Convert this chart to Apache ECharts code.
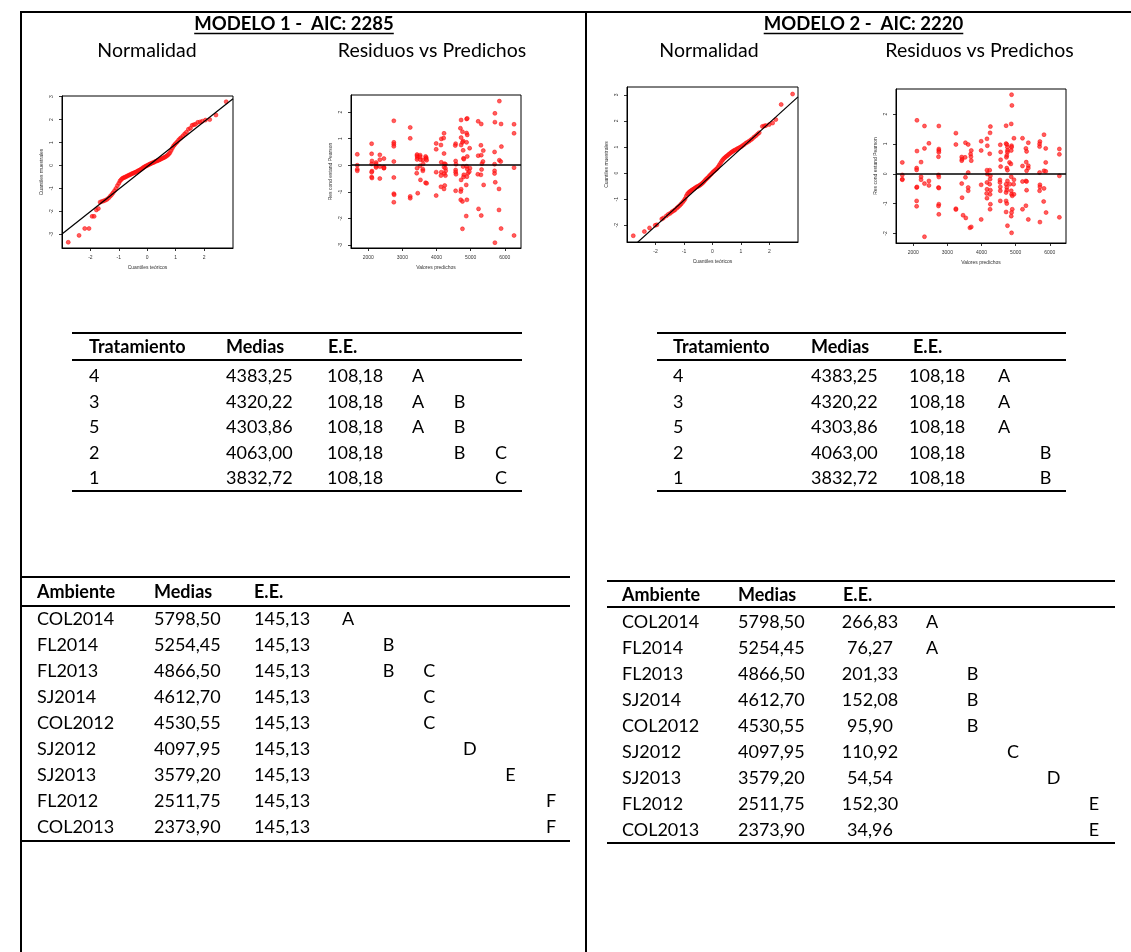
<!DOCTYPE html>
<html>
<head>
<meta charset="utf-8">
<script src="https://cdn.jsdelivr.net/npm/echarts@6/dist/echarts.min.js"></script>
<style>
html,body{margin:0;padding:0;background:#fff;}
#main{width:1131px;height:952px;}
</style>
</head>
<body>
<div id="main"></div>
<script>
// ---------- DATA ----------
const titles = ['MODELO 1 -  AIC: 2285', 'MODELO 2 -  AIC: 2220'];
const subTitles = ['Normalidad', 'Residuos vs Predichos'];

const qqTicksX = [-2, -1, 0, 1, 2];
const qq1TicksY = [-3, -2, -1, 0, 1, 2, 3];
const qq2TicksY = [-2, -1, 0, 1, 2, 3];
const resTicksX = [2000, 3000, 4000, 5000, 6000];
const res1TicksY = [-3, -2, -1, 0, 1, 2];
const res2TicksY = [-2, -1, 0, 1, 2];

// QQ plot model 1: [theoretical quantile, sample quantile]
const qq1 = [[-2.78,-3.35],[-2.40,-3.05],[-2.20,-2.75],[-2.05,-2.75],[-1.94,-2.22],[-1.87,-2.22],[-1.79,-1.94],[-1.72,-1.88],
[-1.66,-1.60],[-1.60,-1.57],[-1.54,-1.55],[-1.48,-1.52],[-1.42,-1.48],[-1.36,-1.42],[-1.30,-1.34],[-1.25,-1.27],[-1.20,-1.19],
[-1.15,-1.10],[-1.10,-1.00],[-1.05,-0.88],[-1.00,-0.78],[-0.96,-0.68],[-0.92,-0.62],[-0.88,-0.57],[-0.84,-0.54],[-0.80,-0.52],
[-0.76,-0.50],[-0.72,-0.47],[-0.68,-0.45],[-0.64,-0.42],[-0.60,-0.40],[-0.56,-0.37],[-0.52,-0.35],[-0.48,-0.33],[-0.44,-0.31],
[-0.40,-0.29],[-0.36,-0.26],[-0.32,-0.23],[-0.28,-0.21],[-0.24,-0.18],[-0.20,-0.15],[-0.16,-0.11],[-0.12,-0.08],[-0.08,-0.05],
[-0.04,-0.02],[0.00,0.00],[0.04,0.03],[0.08,0.05],[0.12,0.08],[0.16,0.10],[0.20,0.12],[0.24,0.14],[0.28,0.17],[0.32,0.19],
[0.36,0.21],[0.40,0.23],[0.44,0.25],[0.48,0.28],[0.52,0.30],[0.56,0.33],[0.60,0.35],[0.64,0.38],[0.68,0.41],[0.72,0.45],
[0.76,0.50],[0.80,0.56],[0.84,0.65],[0.88,0.75],[0.92,0.84],[0.96,0.90],[1.00,0.96],[1.05,1.02],[1.10,1.10],[1.15,1.17],
[1.20,1.22],[1.26,1.30],[1.32,1.38],[1.38,1.45],[1.45,1.58],[1.52,1.62],[1.58,1.75],[1.64,1.78],[1.70,1.80],[1.78,1.88],
[1.86,1.90],[1.94,1.93],[2.05,1.98],[2.20,2.00],[2.42,2.20],[2.78,2.78]];
const qqLine1 = [[-3.0,-2.99],[3.02,2.91]];

// QQ plot model 2
const qq2 = [[-2.78,-2.40],[-2.39,-2.24],[-2.21,-2.10],[-2.01,-2.00],[-1.95,-1.98],[-1.78,-1.76],[-1.72,-1.72],[-1.62,-1.64],
[-1.55,-1.58],[-1.48,-1.54],[-1.42,-1.48],[-1.36,-1.44],[-1.31,-1.40],[-1.25,-1.34],[-1.20,-1.29],[-1.15,-1.24],[-1.10,-1.18],
[-1.05,-1.12],[-1.00,-1.05],[-0.96,-0.98],[-0.92,-0.88],[-0.88,-0.80],[-0.84,-0.75],[-0.80,-0.71],[-0.76,-0.68],[-0.72,-0.65],
[-0.68,-0.62],[-0.64,-0.59],[-0.60,-0.56],[-0.56,-0.53],[-0.52,-0.51],[-0.48,-0.49],[-0.44,-0.46],[-0.40,-0.43],[-0.36,-0.39],
[-0.32,-0.35],[-0.28,-0.30],[-0.24,-0.25],[-0.20,-0.21],[-0.16,-0.17],[-0.12,-0.12],[-0.08,-0.07],[-0.04,-0.03],[0.00,0.02],
[0.04,0.06],[0.08,0.10],[0.12,0.14],[0.16,0.18],[0.20,0.24],[0.24,0.31],[0.28,0.38],[0.32,0.45],[0.36,0.51],[0.40,0.56],
[0.44,0.60],[0.48,0.64],[0.52,0.67],[0.56,0.71],[0.60,0.74],[0.64,0.78],[0.68,0.81],[0.72,0.84],[0.76,0.87],[0.80,0.89],
[0.85,0.92],[0.90,0.95],[0.95,0.98],[1.00,1.01],[1.05,1.05],[1.10,1.09],[1.16,1.14],[1.22,1.18],[1.28,1.22],[1.34,1.27],
[1.40,1.32],[1.46,1.38],[1.52,1.43],[1.58,1.49],[1.64,1.55],[1.75,1.79],[1.82,1.81],[1.87,1.82],[1.99,1.86],[2.11,1.92],
[2.22,2.05],[2.41,2.63],[2.81,3.03]];
const qqLine2 = [[-3.0,-3.02],[3.0,2.92]];

// Residuals vs predicted, model 1: [predicted, standardized Pearson residual]
const res1 = [
[1680,0.41],[1680,0.00],[1680,-0.15],[1680,-0.21],
[2100,0.81],[2100,0.43],[2110,0.16],[2100,0.05],[2110,-0.22],[2100,-0.26],[2100,-0.44],[2110,-0.48],
[2230,0.10],[2230,0.04],[2230,-0.04],[2230,-0.08],
[2340,0.39],[2340,0.21],[2340,-0.05],[2340,-0.50],
[2460,0.25],[2460,-0.07],[2460,-0.11],[2460,-0.10],
[2750,1.67],[2750,0.86],[2750,0.79],[2750,0.71],[2750,0.14],[2750,-0.46],[2750,-1.07],[2760,-1.11],[2750,-1.39],
[3230,1.42],[3230,1.01],[3230,-1.17],[3230,-1.24],
[3430,0.40],[3430,0.35],[3440,0.29],[3430,0.22],[3430,-0.11],[3420,-0.30],[3450,-1.05],
[3520,0.38],[3520,0.32],[3530,0.21],[3520,-0.02],[3530,-0.55],
[3600,0.20],[3600,-0.15],[3600,-0.21],[3610,0.05],
[3680,0.33],[3700,0.28],[3690,0.24],[3710,0.19],[3680,-0.66],[3710,-0.68],
[3990,0.82],[3990,0.60],[3990,-0.26],[3990,-1.14],
[4140,0.99],[4130,0.76],[4140,0.11],[4140,-0.26],[4130,-0.39],[4130,-0.81],
[4220,1.20],[4210,1.02],[4220,0.44],[4230,0.06],[4220,-0.07],[4230,-0.31],[4240,-0.76],[4220,-0.89],[4260,-0.39],
[4260,0.04],[4260,-0.11],[4270,-0.21],
[4560,0.81],[4550,0.74],[4560,0.16],[4570,0.04],[4560,-0.18],[4560,-0.26],[4570,-0.34],[4560,-0.96],
[4720,1.70],[4700,1.39],[4720,1.04],[4720,0.76],[4720,-0.55],[4720,-0.90],[4710,-0.99],[4710,-1.30],
[4760,1.26],[4780,0.91],[4760,0.86],[4780,0.56],[4790,0.26],[4800,0.23],[4780,-0.05],[4800,-0.36],[4790,-0.44],[4760,-1.36],[4760,-2.39],
[4880,1.74],[4900,1.76],[4880,1.21],[4900,1.14],[4880,0.86],[4900,0.33],[4880,-0.04],[4900,-0.14],[4920,-0.30],[4890,-0.43],[4870,-0.74],[4890,-1.30],[4870,-1.91],
[4970,0.64],[4980,-0.11],[4960,-0.24],
[5220,1.65],[5220,0.36],[5210,-0.34],[5230,-1.64],
[5310,1.55],[5300,0.75],[5310,0.38],[5330,0.06],[5320,-0.16],[5300,-0.36],[5310,-1.89],
[5370,0.55],[5360,0.14],[5380,-0.74],
[5710,1.95],[5710,1.62],[5700,0.50],[5700,0.04],[5700,-0.21],[5700,-0.31],[5720,-0.64],[5710,-2.91],
[5840,2.41],[5840,0.19],[5830,-0.89],[5830,-1.68],
[5890,1.55],[5900,0.70],[5880,0.14],[5890,-2.38],
[6270,1.54],[6270,1.20],[6270,-0.09],[6270,-2.64]];

// Residuals vs predicted, model 2
const res2 = [
[1680,0.38],[1680,-0.04],[1680,-0.18],[1680,-0.20],
[2110,1.79],[2110,0.76],[2100,0.19],[2100,0.13],[2100,-0.46],[2110,-0.44],[2100,-0.91],[2100,-1.09],
[2230,0.39],[2230,-0.10],[2230,-0.20],
[2330,1.60],[2330,0.85],[2330,-0.33],[2330,-2.11],
[2460,1.02],[2460,-0.24],[2460,-0.39],
[2750,1.60],[2750,0.83],[2750,0.78],[2750,0.72],[2740,0.57],[2740,-0.04],[2750,-0.11],[2740,-0.46],[2750,-0.48],[2750,-1.02],[2740,-1.08],[2750,-1.36],
[3250,1.36],[3250,0.98],[3250,-1.17],[3250,-1.20],
[3420,0.56],[3430,0.49],[3420,0.44],[3420,-0.33],[3430,-0.80],[3460,-1.39],
[3530,1.04],[3520,0.55],[3530,-0.12],[3540,-1.48],
[3610,0.98],[3610,0.04],[3610,-0.46],[3610,-0.57],
[3680,0.66],[3690,0.57],[3700,0.44],[3700,0.78],[3660,-1.81],[3700,-1.78],
[3990,1.09],[3990,0.78],[3990,-0.37],[3990,-1.53],
[4160,1.17],[4170,0.94],[4160,0.12],[4170,-0.01],[4160,-0.29],[4160,-0.52],[4150,-0.66],[4160,-0.82],
[4250,1.37],[4260,1.58],[4240,0.67],[4240,0.12],[4260,-0.07],[4250,-0.18],[4240,-0.35],[4260,-0.55],[4250,-0.69],[4260,-1.02],[4250,-1.19],
[4550,0.97],[4560,0.73],[4560,0.47],[4560,0.24],[4540,-0.21],[4540,-0.29],[4550,-0.44],[4550,-0.57],[4550,-0.91],
[4720,1.61],[4720,1.01],[4740,0.98],[4760,0.89],[4760,0.78],[4760,0.72],[4740,0.61],[4730,0.55],[4740,0.19],[4760,0.12],[4760,-0.24],[4720,-0.35],[4740,-0.46],[4740,-0.55],[4720,-0.63],[4720,-0.91],[4740,-1.00],[4720,-1.28],[4760,-1.74],
[4880,2.65],[4890,2.29],[4870,1.67],[4880,0.94],[4880,0.89],[4870,0.78],[4820,0.38],[4860,0.33],[4870,-0.10],[4830,-0.35],[4870,-0.57],[4880,-0.69],[4900,-0.74],[4900,-1.19],[4880,-1.30],[4870,-1.42],[4880,-1.98],
[4950,1.19],[4950,-0.20],[4940,-0.35],[4950,-0.69],
[5200,1.19],[5200,0.26],[5200,-0.26],[5200,-1.19],
[5300,0.85],[5320,0.75],[5310,0.39],[5320,0.10],[5300,-0.24],[5320,-0.26],[5320,-0.55],[5300,-1.07],[5370,-1.53],
[5370,1.04],[5370,0.27],[5370,0.19],
[5710,1.08],[5700,1.00],[5700,0.91],[5700,0.04],[5710,-0.37],[5710,-0.44],[5700,-0.57],[5710,-1.62],
[5830,1.31],[5830,0.10],[5830,-0.49],[5820,-0.93],
[5880,0.85],[5880,0.38],[5880,0.08],[5890,-1.30],
[6280,0.83],[6280,0.65],[6280,-0.07],[6280,-1.46]];

// Tables
const tratHeaders = ['Tratamiento', 'Medias', 'E.E.'];
const tratNames = ['4', '3', '5', '2', '1'];
const tratMedias = ['4383,25', '4320,22', '4303,86', '4063,00', '3832,72'];
const tratEE1 = ['108,18', '108,18', '108,18', '108,18', '108,18'];
const tratEE2 = ['108,18', '108,18', '108,18', '108,18', '108,18'];
const tratLetters1 = ['A', 'AB', 'AB', 'BC', 'C'];
const tratLetters2 = ['A', 'A', 'A', 'B', 'B'];

const ambHeaders = ['Ambiente', 'Medias', 'E.E.'];
const ambNames = ['COL2014', 'FL2014', 'FL2013', 'SJ2014', 'COL2012', 'SJ2012', 'SJ2013', 'FL2012', 'COL2013'];
const ambMedias = ['5798,50', '5254,45', '4866,50', '4612,70', '4530,55', '4097,95', '3579,20', '2511,75', '2373,90'];
const ambEE1 = ['145,13', '145,13', '145,13', '145,13', '145,13', '145,13', '145,13', '145,13', '145,13'];
const ambEE2 = ['266,83', '76,27', '201,33', '152,08', '95,90', '110,92', '54,54', '152,30', '34,96'];
const ambLetters1 = ['A', 'B', 'BC', 'C', 'C', 'D', 'E', 'F', 'F'];
const ambLetters2 = ['A', 'A', 'B', 'B', 'B', 'C', 'D', 'E', 'E'];

// ---------- RENDER ----------
const FONT = 'Lato, "Open Sans", sans-serif';
const chart = echarts.init(document.getElementById('main'), null, {renderer: 'canvas'});
const G = [];
const measureCtx = document.createElement('canvas').getContext('2d');

function fontStr(o) { return (o.bold ? 'bold ' : '') + (o.size || 18) + 'px ' + FONT; }
function txt(x, y, s, o) {
  o = o || {};
  G.push({type: 'text', x: x, y: y, silent: true, z: 10,
    style: {text: s, fill: '#000', font: fontStr(o),
      textAlign: o.align || 'left', textVerticalAlign: 'middle'}});
}
function ln(x1, y1, x2, y2, w) {
  G.push({type: 'line', silent: true, z: 10, shape: {x1: x1, y1: y1, x2: x2, y2: y2},
    style: {stroke: '#000', lineWidth: w || 2}});
}

// frame
ln(21, 12, 1131, 12, 2);
ln(21, 11, 21, 952, 2);
ln(586, 11, 586, 952, 2);

// titles (underlined)
function header(cx, title, nx, rx) {
  const o = {bold: true, size: 18.5, align: 'center'};
  txt(cx, 24, title, o);
  measureCtx.font = fontStr(o);
  const w = measureCtx.measureText(title).width;
  ln(cx - w / 2, 33.5, cx + w / 2, 33.5, 1.6);
  txt(nx, 51, subTitles[0], {size: 19.5, align: 'center'});
  txt(rx, 51, subTitles[1], {size: 19.5, align: 'center'});
}
header(294, titles[0], 147, 432);
header(863.5, titles[1], 709, 979.5);

function table(c) {
  ln(c.x0, c.yTop, c.x1, c.yTop, 2);
  ln(c.x0, c.yUnder, c.x1, c.yUnder, 2);
  ln(c.x0, c.yBottom, c.x1, c.yBottom, 2);
  txt(c.cols[0], c.yHead, c.headers[0], {bold: true, size: c.size});
  txt(c.cols[1], c.yHead, c.headers[1], {bold: true, size: c.size});
  txt(c.colsH2, c.yHead, c.headers[2], {bold: true, size: c.size});
  c.names.forEach(function (n, i) {
    const y = c.row0 + i * c.rowStep;
    txt(c.cols[0], y, n, {size: c.size});
    txt(c.cols[1], y, c.medias[i], {size: c.size});
    txt(c.cols[2], y, c.ee[i], {size: c.size, align: c.eeAlign});
    c.letters[i].split('').forEach(function (L) {
      const k = L.charCodeAt(0) - 65;
      txt(c.letterA + k * c.letterStep, y, L, {size: c.size, align: 'center'});
    });
  });
}
table({x0: 72, x1: 522, yTop: 333, yUnder: 360, yBottom: 491, yHead: 347, row0: 376.5, rowStep: 25.4, size: 18,
  cols: [89, 226, 327], colsH2: 328, eeAlign: 'left', headers: tratHeaders, names: tratNames, medias: tratMedias,
  ee: tratEE1, letters: tratLetters1, letterA: 418, letterStep: 41.5});
table({x0: 657, x1: 1066, yTop: 333, yUnder: 360, yBottom: 491, yHead: 347, row0: 376.5, rowStep: 25.4, size: 18,
  cols: [673, 811, 909], colsH2: 913, eeAlign: 'left', headers: tratHeaders, names: tratNames, medias: tratMedias,
  ee: tratEE2, letters: tratLetters2, letterA: 1004, letterStep: 41.5});
table({x0: 22, x1: 570, yTop: 577, yUnder: 606, yBottom: 841, yHead: 592, row0: 619.5, rowStep: 25.9, size: 18,
  cols: [37, 154, 254], colsH2: 254, eeAlign: 'left', headers: ambHeaders, names: ambNames, medias: ambMedias,
  ee: ambEE1, letters: ambLetters1, letterA: 348, letterStep: 40.6});
table({x0: 607, x1: 1115, yTop: 581, yUnder: 607, yBottom: 843, yHead: 595, row0: 622.5, rowStep: 25.9, size: 18,
  cols: [622, 738, 870], colsH2: 843, eeAlign: 'center', headers: ambHeaders, names: ambNames, medias: ambMedias,
  ee: ambEE2, letters: ambLetters2, letterA: 932, letterStep: 40.5});

// plots
const grids = [
  {left: 62, top: 96, width: 171, height: 152},
  {left: 351, top: 95, width: 170, height: 153},
  {left: 627, top: 87, width: 171, height: 155},
  {left: 896, top: 89, width: 170, height: 154}
];
function axis(gi, min, max, ticks, name, isY) {
  return {
    type: 'value', gridIndex: gi, min: min, max: max, scale: true,
    name: name, nameLocation: 'middle', nameGap: isY ? 18 : 17,
    nameTextStyle: {fontSize: 5, color: '#333', fontFamily: 'Liberation Sans, Arial'},
    axisLine: {show: true, onZero: false, lineStyle: {color: '#000', width: 1}},
    axisTick: {show: true, inside: false, length: 3, customValues: ticks, lineStyle: {color: '#000', width: 0.8}},
    axisLabel: {customValues: ticks, fontSize: 5, color: '#333', margin: isY ? 8 : 7, rotate: isY ? 90 : 0,
      fontFamily: 'Liberation Sans, Arial', showMinLabel: true, showMaxLabel: true,
      formatter: function (v) { return String(v); }},
    splitLine: {show: false}
  };
}
const xAxes = [
  axis(0, -3.0, 3.02, qqTicksX, 'Cuantiles teóricos', false),
  axis(1, 1496, 6474, resTicksX, 'Valores predichos', false),
  axis(2, -3.0, 3.0, qqTicksX, 'Cuantiles teóricos', false),
  axis(3, 1496, 6474, resTicksX, 'Valores predichos', false)
];
const yAxes = [
  axis(0, -3.6, 3.03, qq1TicksY, 'Cuantiles muestrales', true),
  axis(1, -3.11, 2.64, res1TicksY, 'Res cond estand Pearson', true),
  axis(2, -2.64, 3.3, qq2TicksY, 'Cuantiles muestrales', true),
  axis(3, -2.32, 2.84, res2TicksY, 'Res cond estand Pearson', true)
];
const pointStyle = {color: 'rgba(255,30,30,0.9)', borderColor: '#ff0000', borderWidth: 0.6};
function scatter(i, data) {
  return {type: 'scatter', xAxisIndex: i, yAxisIndex: i, data: data, symbol: 'circle', symbolSize: 4,
    itemStyle: pointStyle, silent: true, clip: true, z: 2};
}
function refLine(i, data) {
  return {type: 'line', xAxisIndex: i, yAxisIndex: i, data: data, symbol: 'none', silent: true, clip: true,
    lineStyle: {color: '#000', width: 1.2}, z: 3};
}
function zeroLine(i, data) {
  const s = scatter(i, data);
  s.markLine = {silent: true, symbol: ['none', 'none'], label: {show: false}, animation: false,
    lineStyle: {color: '#000', type: 'solid', width: 1.6}, data: [{yAxis: 0}]};
  return s;
}

chart.setOption({
  animation: false,
  backgroundColor: '#fff',
  grid: grids.map(function (g) { return Object.assign({show: true, borderColor: '#000', borderWidth: 1, backgroundColor: 'transparent', containLabel: false}, g); }),
  xAxis: xAxes,
  yAxis: yAxes,
  series: [
    scatter(0, qq1), refLine(0, qqLine1),
    zeroLine(1, res1),
    scatter(2, qq2), refLine(2, qqLine2),
    zeroLine(3, res2)
  ],
  graphic: {elements: G}
});
</script>
</body>
</html>
